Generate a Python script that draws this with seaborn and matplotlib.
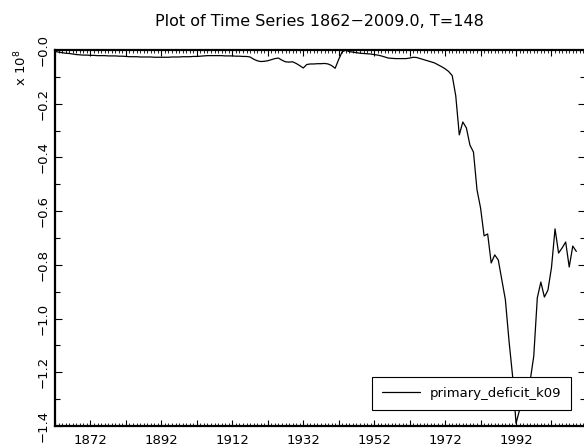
import numpy as np
import pandas as pd
import matplotlib
matplotlib.use("Agg")
import matplotlib.pyplot as plt
import seaborn as sns
from matplotlib.ticker import MultipleLocator, FixedLocator, FuncFormatter

# ---- data (units of 1e8) ----
start_year = 1862
deficit_1862_1901 = [
    -0.005, -0.008, -0.010, -0.012, -0.013, -0.015, -0.017, -0.018, -0.019, -0.019,
    -0.020, -0.020, -0.021, -0.021, -0.021, -0.022, -0.022, -0.022, -0.023, -0.023,
    -0.024, -0.025, -0.025, -0.025, -0.026, -0.026, -0.026, -0.026, -0.027, -0.027,
    -0.027, -0.027, -0.027, -0.026, -0.026, -0.026, -0.025, -0.025, -0.025, -0.024,
]
deficit_1902_1941 = [
    -0.024, -0.023, -0.022, -0.021, -0.021, -0.021, -0.021, -0.021, -0.022, -0.022,
    -0.022, -0.023, -0.023, -0.024, -0.024, -0.026, -0.034, -0.040, -0.043, -0.042,
    -0.040, -0.036, -0.032, -0.030, -0.038, -0.044, -0.045, -0.044, -0.050, -0.058,
    -0.067, -0.054, -0.052, -0.052, -0.051, -0.051, -0.050, -0.052, -0.058, -0.068,
]
deficit_1942_1974 = [
    -0.035, -0.006, -0.001, -0.006, -0.008, -0.010, -0.012, -0.013, -0.014, -0.015,
    -0.017, -0.019, -0.022, -0.026, -0.030, -0.031, -0.032, -0.032, -0.032, -0.032,
    -0.030, -0.027, -0.028, -0.032, -0.036, -0.040, -0.044, -0.048, -0.055, -0.062,
    -0.070, -0.080, -0.095,
]
deficit_1975_2009 = [
    -0.170, -0.316, -0.268, -0.290, -0.354, -0.380, -0.521, -0.588, -0.692, -0.685,
    -0.793, -0.763, -0.782, -0.856, -0.930, -1.080, -1.210, -1.390, -1.340, -1.300,
    -1.270, -1.230, -1.140, -0.923, -0.864, -0.920, -0.894, -0.810, -0.666, -0.756,
    -0.737, -0.715, -0.808, -0.730, -0.750,
]
deficit = deficit_1862_1901 + deficit_1902_1941 + deficit_1942_1974 + deficit_1975_2009
years = list(range(start_year, start_year + len(deficit)))
series_name = "primary_deficit_k09"
title_text = "Plot of Time Series 1862\u22122009.0, T=148"
x_tick_labels = [1872, 1892, 1912, 1932, 1952, 1972, 1992]

df = pd.DataFrame({"year": years, "value": deficit})

sns.set_theme(style="ticks")
plt.rcParams["font.family"] = ["DejaVu Sans"]
plt.rcParams["text.color"] = "black"
plt.rcParams["xtick.color"] = "black"
plt.rcParams["ytick.color"] = "black"
plt.rcParams["axes.edgecolor"] = "black"
plt.rcParams["axes.labelcolor"] = "black"

W, H = 584, 448
fig = plt.figure(figsize=(W / 100, H / 100), dpi=100)
ax_left, ax_right, ax_top, ax_bot = 55, 585, 50, 426
ax = fig.add_axes([ax_left / W, 1 - ax_bot / H, (ax_right - ax_left) / W, (ax_bot - ax_top) / H])
ax.set_facecolor("white")

sns.lineplot(data=df, x="year", y="value", ax=ax, color="black", linewidth=0.9,
             label=series_name, legend=False)

ax.set_xlim(1862, 2011.45)
ax.set_ylim(-1.4, 0.0)

# x ticks
ax.xaxis.set_major_locator(FixedLocator(list(range(1862, 2012, 10))))
ax.xaxis.set_minor_locator(MultipleLocator(1))
ax.xaxis.set_major_formatter(FuncFormatter(lambda v, p: str(int(round(v))) if int(round(v)) in x_tick_labels else ""))
# y ticks
ax.yaxis.set_major_locator(MultipleLocator(0.2))
ax.yaxis.set_minor_locator(MultipleLocator(0.1))
ax.yaxis.set_major_formatter(FuncFormatter(lambda v, p: "\u2212%.1f" % abs(v)))

ax.tick_params(axis="both", which="both", direction="in", top=True, right=True,
               color="black", labelcolor="black")
ax.tick_params(axis="x", which="major", length=4, width=0.8, pad=5.5, labelsize=9.5)
ax.tick_params(axis="x", which="minor", length=2, width=0.6)
ax.tick_params(axis="y", which="major", length=5, width=0.8, pad=4, labelsize=9.5, labelrotation=90)
ax.tick_params(axis="y", which="minor", length=3.5, width=0.8)
for lab in ax.get_yticklabels():
    lab.set_va("center")
    lab.set_ha("right")

for s in ["left", "bottom", "top"]:
    ax.spines[s].set_linewidth(1.6)
    ax.spines[s].set_color("black")
ax.spines["right"].set_linewidth(1.0)
ax.spines["right"].set_color("black")
ax.set_xlabel("")
ax.set_ylabel("")
ax.grid(False)

leg = ax.legend(loc="lower right", bbox_to_anchor=(0.9735, 0.0426), borderaxespad=0,
                fontsize=9.5, frameon=True, fancybox=False, framealpha=1,
                edgecolor="black", handlelength=2.9, handletextpad=0.7, borderpad=0.75)
leg.get_frame().set_linewidth(0.8)
for t in leg.get_texts():
    t.set_color("black")

fig.text((ax_left + 583) / 2 / W, 1 - 21.5 / H, title_text, ha="center", va="center",
         fontsize=11.5, color="black")
fig.text(21 / W, 1 - 68 / H, r"x 10$^{8}$", rotation=90, ha="center", va="center",
         fontsize=9.5, color="black")

fig.savefig("out.png", dpi=100, facecolor="white")
